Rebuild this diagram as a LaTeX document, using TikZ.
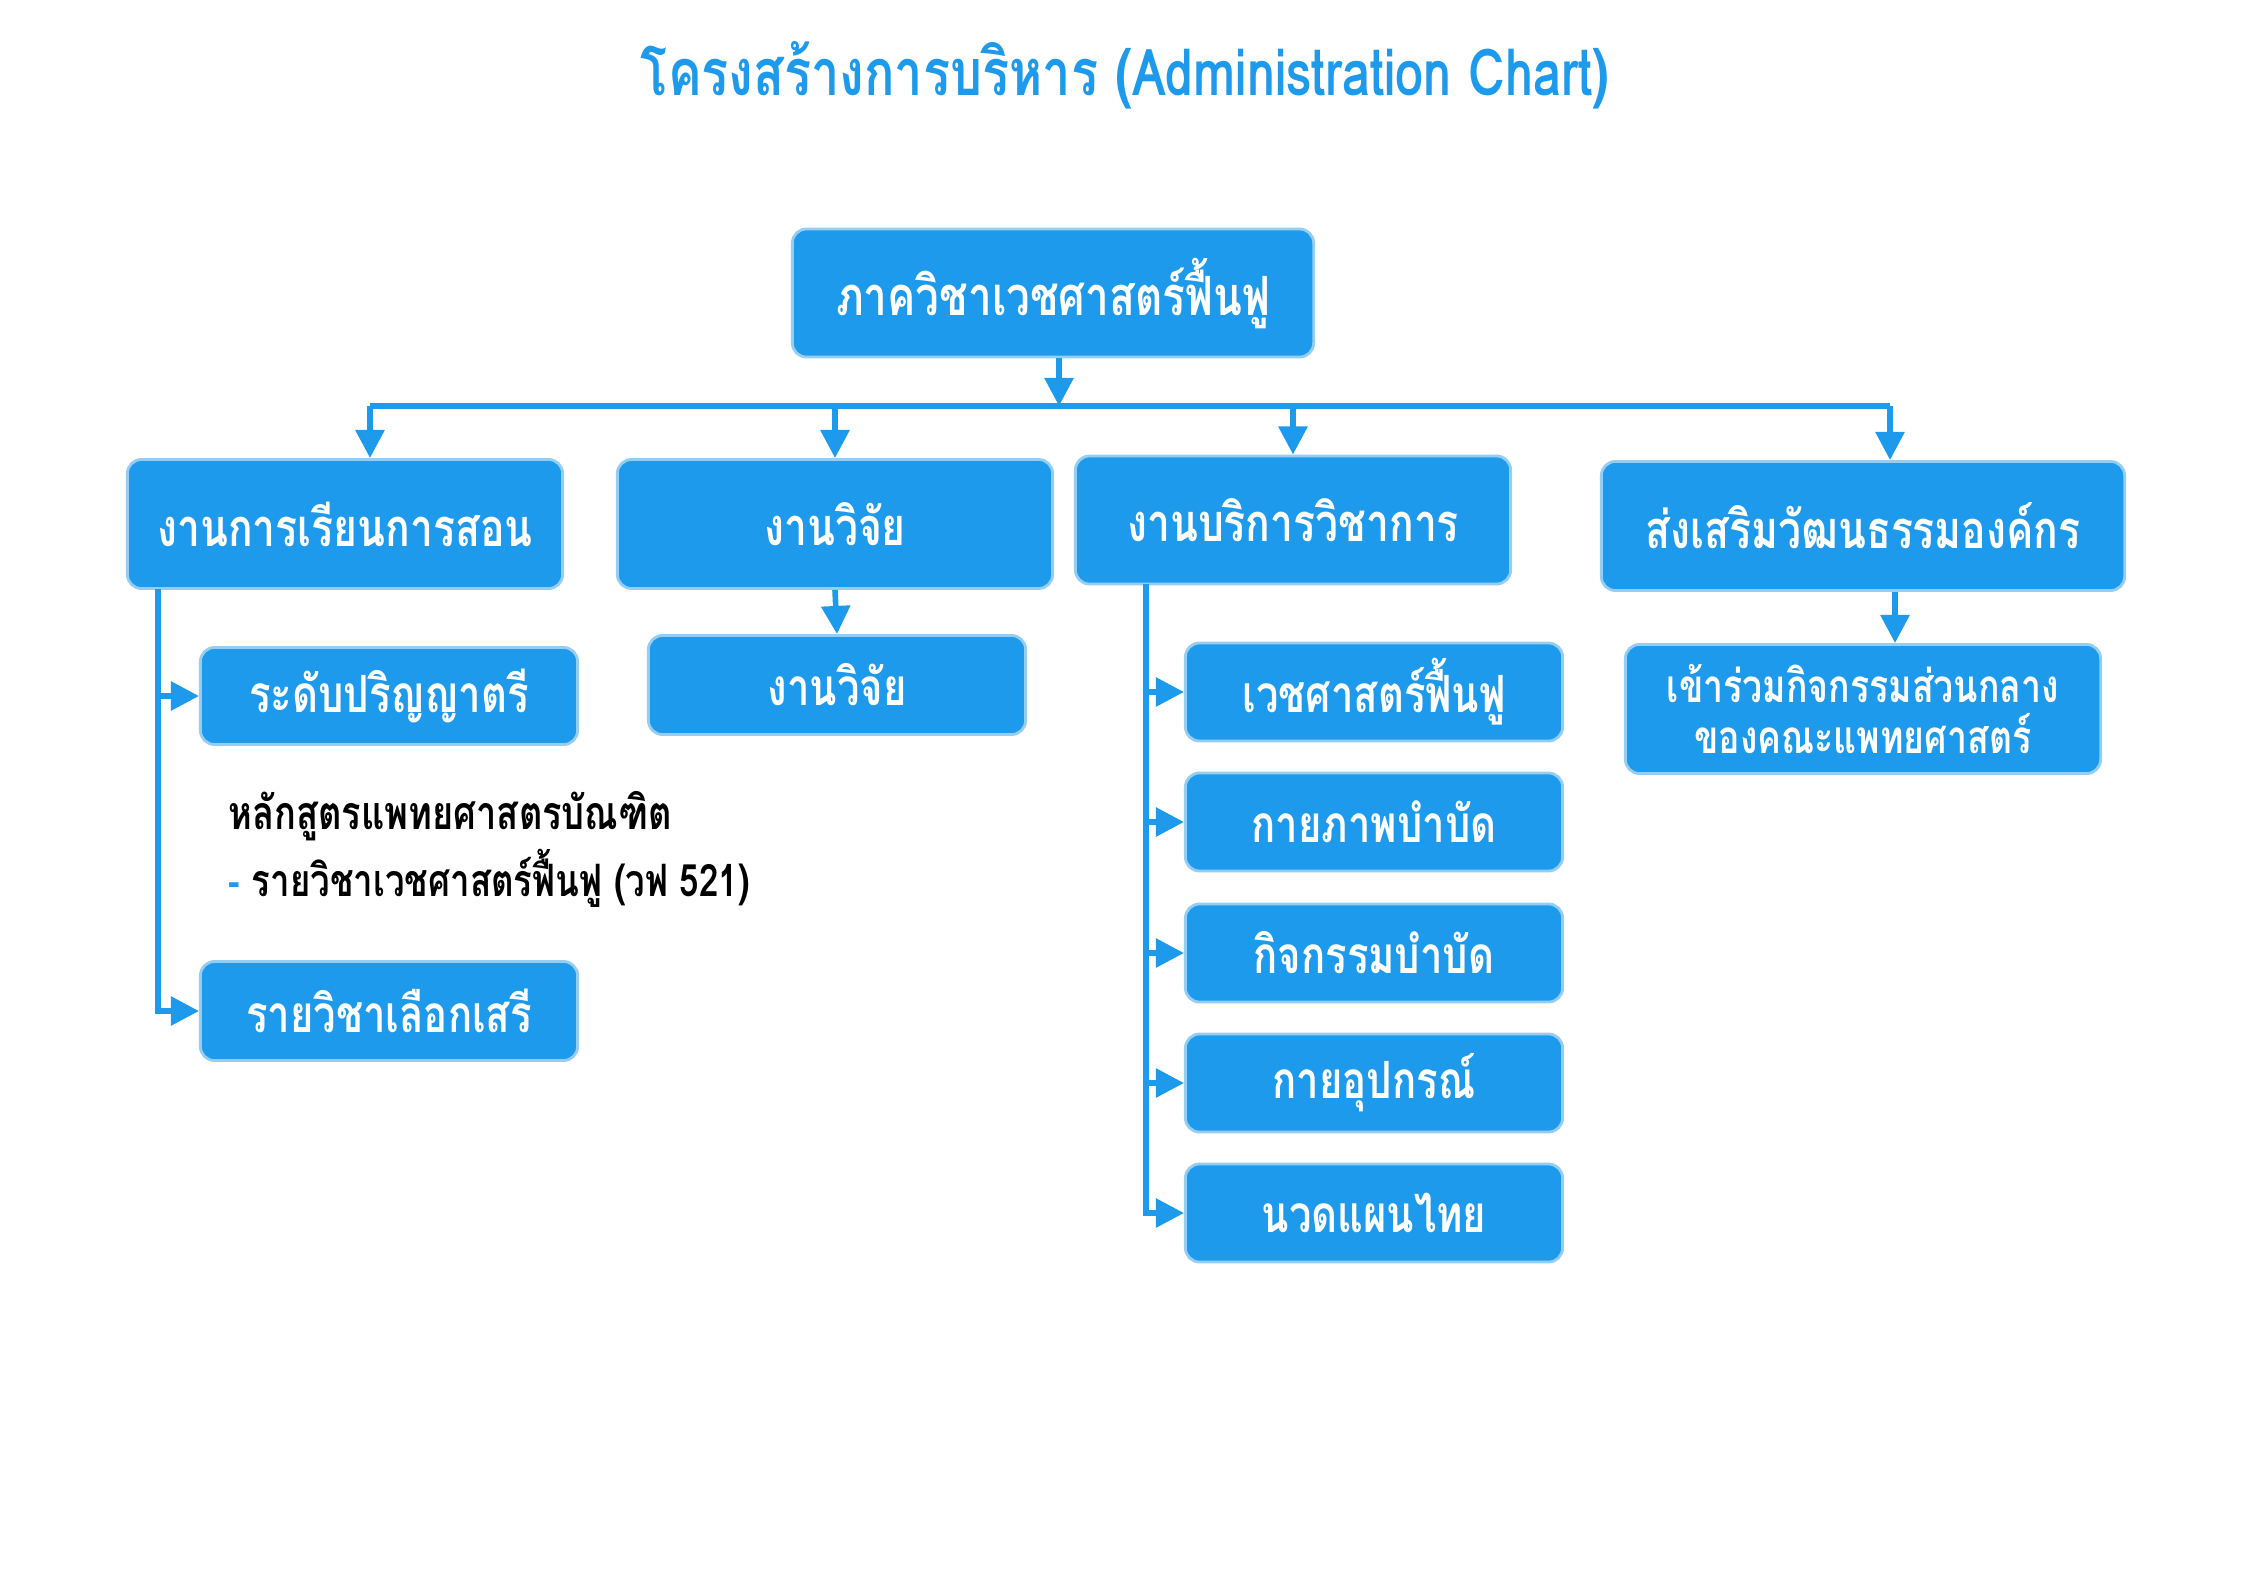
\documentclass[tikz,border=0pt]{standalone}
\usepackage{fontspec}
\setmainfont[Script=Thai, FakeStretch=0.78]{Loma}
\usetikzlibrary{positioning, arrows.meta}

\definecolor{chartblue}{RGB}{30,154,236}
\definecolor{boxedge}{RGB}{150,205,242}

\tikzset{
  box/.style = {rectangle, draw = boxedge, line width = 0.8pt, fill = chartblue,
    rounded corners = 4pt, text = white, align = center, inner sep = 2pt,
    font = \bfseries\fontsize{14.6}{20}\selectfont},
  link/.style = {draw = chartblue, line width = 1.6pt},
  arr/.style = {link, -{Triangle[length = 8pt, width = 8pt]}}
}

\begin{document}
\begin{tikzpicture}[x = 0.01cm, y = -0.01cm]
        \useasboundingbox (0, 0) rectangle (2245, 1587);

        \node (title) at (1125, 75) {\textcolor{chartblue}{\bfseries\fontsize{18.4}{24}\selectfont โครงสร้างการบริหาร (Administration Chart)}};

        \node[box, minimum width = 5.21cm, minimum height = 1.28cm, font = \bfseries\fontsize{15.4}{20}\selectfont] (dept) at (1053, 293) {ภาควิชาเวชศาสตร์ฟื้นฟู};

        \node[box, minimum width = 4.35cm, minimum height = 1.29cm, font = \bfseries\fontsize{14.9}{20}\selectfont] (teach) at (345, 524) {งานการเรียนการสอน};
        \node[box, minimum width = 4.35cm, minimum height = 1.29cm, font = \bfseries\fontsize{14.9}{20}\selectfont] (research) at (835, 524) {งานวิจัย};
        \node[box, minimum width = 4.35cm, minimum height = 1.28cm, font = \bfseries\fontsize{14.9}{20}\selectfont] (service) at (1293, 520) {งานบริการวิชาการ};
        \node[box, minimum width = 5.23cm, minimum height = 1.29cm, font = \bfseries\fontsize{14.9}{20}\selectfont] (culture) at (1863, 526) {ส่งเสริมวัฒนธรรมองค์กร};

        \node[box, minimum width = 3.77cm, minimum height = 0.97cm] (bachelor) at (389, 696) {ระดับปริญญาตรี};
        \node[box, minimum width = 3.77cm, minimum height = 0.99cm] (elective) at (389, 1011) {รายวิชาเลือกเสรี};
        \node[anchor = west, font = \bfseries\fontsize{13.2}{18}\selectfont] (curriculum) at (216, 816) {หลักสูตรแพทยศาสตรบัณฑิต};
        \node[anchor = west, font = \bfseries\fontsize{12.7}{18}\selectfont] (course) at (216, 878) {\textcolor{chartblue}{-} รายวิชาเวชศาสตร์ฟื้นฟู (วฟ 521)};

        \node[box, minimum width = 3.77cm, minimum height = 0.99cm] (researchSub) at (837, 685) {งานวิจัย};

        \node[box, minimum width = 3.77cm, minimum height = 0.98cm] (rehab) at (1374, 692) {เวชศาสตร์ฟื้นฟู};
        \node[box, minimum width = 3.77cm, minimum height = 0.98cm] (pt) at (1374, 822) {กายภาพบำบัด};
        \node[box, minimum width = 3.77cm, minimum height = 0.98cm] (ot) at (1374, 953) {กิจกรรมบำบัด};
        \node[box, minimum width = 3.77cm, minimum height = 0.98cm] (prosth) at (1374, 1083) {กายอุปกรณ์};
        \node[box, minimum width = 3.77cm, minimum height = 0.98cm] (massage) at (1374, 1213) {นวดแผนไทย};

        \node[box, minimum width = 4.75cm, minimum height = 1.29cm, font = \bfseries\fontsize{13}{14.5}\selectfont] (central) at (1863, 709) {เข้าร่วมกิจกรรมส่วนกลาง\\ของคณะแพทยศาสตร์};

        % bus below the department box
        \coordinate (bus) at (1059, 406);
        \coordinate (busL) at (370, 406);
        \coordinate (busR) at (1890, 406);
        \coordinate (teachTrunk) at (158, 589);
        \coordinate (servTrunk) at (1146, 584);

        \draw[arr] (dept.south -| bus) -- (bus);
        \draw[link] (busL) -- (busR);
        \draw[arr] (busL) -- (busL |- teach.north);
        \draw[arr] (research.north |- bus) -- (research.north);
        \draw[arr] (service.north |- bus) -- (service.north);
        \draw[arr] (busR) -- (busR |- culture.north);

        \draw[arr] (teachTrunk) |- (bachelor.west);
        \draw[arr] (teachTrunk) |- (elective.west);
        \draw[arr] (research.south) -- (researchSub.north);
        \foreach \sub in {rehab, pt, ot, prosth, massage}
          \draw[arr] (servTrunk) |- (\sub.west);
        \draw[arr] ([xshift = 0.32cm]culture.south) -- ([xshift = 0.32cm]central.north);
      \end{tikzpicture}
\end{document}
